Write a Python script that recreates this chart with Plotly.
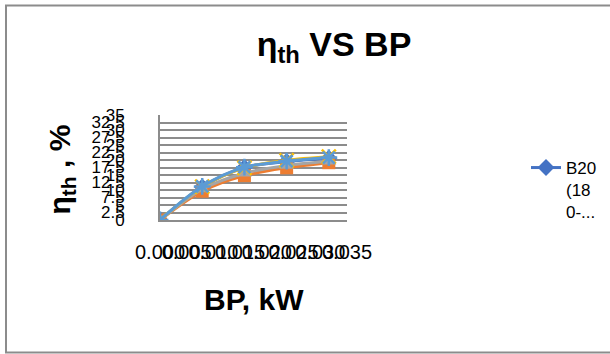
import plotly.graph_objects as go

# Brake power (kW) and thermal efficiency (%) for each blend
bp_kw = [0.0, 0.0079, 0.0158, 0.0237, 0.0316]
eff_b20 = [0.0, 11.0, 17.5, 19.5, 20.6]
eff_s2 = [0.0, 9.6, 14.8, 17.4, 19.1]
eff_s3 = [0.0, 10.3, 15.6, 18.2, 19.6]
eff_s4 = [0.0, 11.1, 17.4, 19.9, 21.1]
eff_s5 = [0.0, 11.2, 17.6, 19.6, 20.8]

y_ticks = [0, 2.5, 5, 7.5, 10, 12.5, 15, 17.5, 20, 22.5, 25, 27.5, 30, 32.5, 35]
x_ticks = [0.000, 0.005, 0.010, 0.015, 0.020, 0.025, 0.030, 0.035]
x_tick_text = ["0.000", "0.005", "0.010", "0.015", "0.020", "0.025", "0.030", "0.035"]

legend_name = "B20<br>(18<br>0-..."

W, H = 610, 354
L, R, T, B = 160, 263, 115, 134
PW, PH = W - L - R, H - T - B


def px_x(px):
    return (px - L) / PW


def px_y(py):
    return (H - B - py) / PH


series = [
    (eff_b20, "#4472C4", "diamond", legend_name, True),
    (eff_s2, "#ED7D31", "square", "s2", False),
    (eff_s3, "#A5A5A5", "triangle-up", "s3", False),
    (eff_s4, "#FFC000", "x-thin", "s4", False),
    (eff_s5, "#5B9BD5", "asterisk", "s5", False),
]

fig = go.Figure()
for vals, color, sym, name, show in series:
    thin = sym in ("x-thin", "asterisk")
    fig.add_trace(go.Scatter(
        x=bp_kw, y=vals, name=name, showlegend=show,
        mode="lines+markers",
        line=dict(color=color, width=3, shape="spline", smoothing=0.9),
        marker=dict(symbol=sym, size=13 if not thin else 14, color=color,
                    line=dict(color=color, width=2.5 if thin else 0)),
    ))

fig.update_layout(
    width=W, height=H,
    margin=dict(l=L, r=R, t=T, b=B),
    paper_bgcolor="white", plot_bgcolor="white",
    font=dict(family="Liberation Sans Narrow, Liberation Sans, Arial", color="#000000"),
    title=dict(
        text="<b>η<sub>th</sub> VS BP</b>",
        font=dict(family="Liberation Sans, Arial", size=34, color="#000000"),
        x=334 / W, xref="container", xanchor="center",
        y=1 - 44 / H, yref="container", yanchor="middle",
    ),
    xaxis=dict(
        range=[0, 0.035], tickvals=x_ticks, ticktext=x_tick_text, tickangle=0,
        showgrid=False, zeroline=False,
        showline=True, linecolor="#8C8C8C", linewidth=2,
        ticks="", tickfont=dict(size=20), ticklabelstandoff=13,
    ),
    yaxis=dict(
        range=[0, 35], tickvals=y_ticks, ticktext=[f"{v:g}" for v in y_ticks],
        showgrid=True, gridcolor="#8C8C8C", gridwidth=1.5,
        zeroline=False, showline=True, linecolor="#8C8C8C", linewidth=2,
        ticks="", tickfont=dict(size=17), ticklabelstandoff=30,
    ),
    showlegend=True,
    legend=dict(
        x=526 / W, xref="container", xanchor="left",
        y=1 - 150 / H, yref="container", yanchor="top",
        valign="top", bgcolor="rgba(0,0,0,0)",
        font=dict(family="Liberation Sans, Arial", size=17, color="#000000"),
    ),
    annotations=[
        dict(text="<b>BP, kW</b>", x=px_x(254), y=px_y(318), xref="paper", yref="paper",
             showarrow=False, font=dict(family="Liberation Sans, Arial", size=30)),
        dict(text="<b>η<sub>th</sub> , %</b>", x=px_x(40), y=px_y(170), xref="paper", yref="paper",
             showarrow=False, textangle=-90,
             font=dict(family="Liberation Sans, Arial", size=30)),
    ],
    shapes=[
        dict(type="rect", xref="paper", yref="paper",
             x0=px_x(6), x1=px_x(614), y0=px_y(352.5), y1=px_y(5.5),
             line=dict(color="#8C8C8C", width=2), layer="below"),
    ],
)

fig.write_html("out.html")
